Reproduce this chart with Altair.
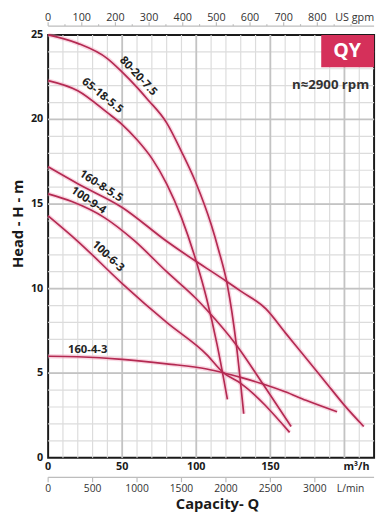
import altair as alt
import pandas as pd

# ---------------- data ----------------
curve_names = ["80-20-7.5", "65-18-5.5", "160-8-5.5", "100-9-4", "100-6-3", "160-4-3"]

q_80_20_7_5 = [0, 20, 40, 50, 60, 67, 80, 90, 100, 110, 115, 121, 127, 132]
h_80_20_7_5 = [25.0, 24.5, 23.6, 22.8, 21.9, 21.2, 19.8, 18.1, 16.2, 13.8, 12.3, 10.2, 6.7, 2.6]

q_65_18_5_5 = [0, 20, 40, 50, 60, 70, 80, 90, 100, 107, 114, 121]
h_65_18_5_5 = [22.3, 21.7, 20.4, 19.7, 18.8, 17.7, 16.2, 14.2, 11.6, 9.4, 6.7, 3.45]

q_160_8_5_5 = [0, 20, 50, 80, 100, 107, 120, 130, 147, 160, 174, 187, 200, 213]
h_160_8_5_5 = [17.2, 16.2, 14.8, 12.8, 11.6, 11.2, 10.45, 9.85, 8.8, 7.4, 5.9, 4.5, 3.1, 1.85]

q_100_9_4 = [0, 16, 38, 58, 80, 100, 107, 127, 145, 164]
h_100_9_4 = [15.6, 15.15, 14.2, 12.85, 11.0, 9.4, 8.75, 6.67, 4.36, 1.85]

q_100_6_3 = [0, 20, 50, 80, 107, 118, 130, 163]
h_100_6_3 = [14.3, 12.8, 10.3, 8.0, 6.1, 5.05, 4.4, 1.5]

q_160_4_3 = [0, 20, 50, 80, 107, 118, 130, 145, 160, 174, 195]
h_160_4_3 = [6.0, 5.97, 5.82, 5.55, 5.25, 5.03, 4.75, 4.36, 3.9, 3.4, 2.72]

label_q = [60.7, 36.5, 35.6, 27.1, 40.3, 26.7]
label_h = [22.55, 21.4, 16.05, 15.2, 11.9, 6.38]
label_angle = [47, 39, 33, 34, 43, 0]

x_ticks_m3h = [0, 50, 100, 150]
y_ticks = [0, 5, 10, 15, 20, 25]
grid_q_minor = list(range(10, 220, 10))
grid_q_major = [50, 100, 150, 200]
grid_h_minor = list(range(1, 25))
grid_h_major = [5, 10, 15, 20]
gpm_ticks = [0, 100, 200, 300, 400, 500, 600, 700, 800]
gpm_minor = [50, 150, 250, 350, 450, 550, 650, 750, 850, 900]
lmin_ticks = [0, 500, 1000, 1500, 2000, 2500, 3000]

GPM_TO_M3H = 0.2271247
LMIN_TO_M3H = 0.06

# ---------------- frames ----------------
all_q = [q_80_20_7_5, q_65_18_5_5, q_160_8_5_5, q_100_9_4, q_100_6_3, q_160_4_3]
all_h = [h_80_20_7_5, h_65_18_5_5, h_160_8_5_5, h_100_9_4, h_100_6_3, h_160_4_3]
rows = []
for name, qs, hs in zip(curve_names, all_q, all_h):
    for i, (q, h) in enumerate(zip(qs, hs)):
        rows.append({"series": name, "Q": q, "H": h, "i": i})
curves = pd.DataFrame(rows)
labels = pd.DataFrame({"series": curve_names, "Q": label_q, "H": label_h, "angle": label_angle})

W, H = 333, 432
FONT = "Open Sans"
xs = alt.Scale(domain=[0, 220], nice=False, zero=False)
ys = alt.Scale(domain=[0, 25], nice=False, zero=False)
XQ = alt.X("Q:Q", scale=xs, axis=None)
YH = alt.Y("H:Q", scale=ys, axis=None)

one = pd.DataFrame({"a": [0]})

def vrules(vals, color, width):
    return alt.Chart(pd.DataFrame({"Q": vals})).mark_rule(color=color, strokeWidth=width).encode(x=XQ)

def hrules(vals, color, width):
    return alt.Chart(pd.DataFrame({"H": vals})).mark_rule(color=color, strokeWidth=width).encode(y=YH)

grid = (vrules(grid_q_minor, "#dcdcdc", 1.2) + hrules(grid_h_minor, "#dcdcdc", 1.2)
        + vrules(grid_q_major, "#c3c3c3", 1.8) + hrules(grid_h_major, "#c3c3c3", 1.8))

# main axes labels (drawn through the scales)
x_labels = alt.Chart(pd.DataFrame({"Q": x_ticks_m3h})).mark_text(
    font=FONT, fontWeight="bold", fontSize=11, color="#1a1a1a", align="center", baseline="middle").encode(
    x=XQ, y=alt.value(H + 10), text="Q:Q")
y_labels = alt.Chart(pd.DataFrame({"H": y_ticks})).mark_text(
    font=FONT, fontWeight="bold", fontSize=11, color="#1a1a1a", align="right", baseline="middle").encode(
    y=YH, x=alt.value(-5), text="H:Q")

halo = alt.Chart(curves).mark_line(color="#f3a9c0", strokeWidth=4.5, opacity=0.45,
                                   interpolate="monotone").encode(
    x=XQ, y=YH, detail="series:N", order="i:Q")

lines = alt.Chart(curves).mark_line(color="#b42a52", strokeWidth=1.7, interpolate="monotone").encode(
    x=XQ, y=YH, detail="series:N", order="i:Q")

curve_text = alt.Chart(labels).mark_text(font=FONT, fontWeight="bold", fontSize=11.5,
                                         color="#222222", baseline="middle", align="center").encode(
    x=XQ, y=YH, text="series:N", angle=alt.Angle("angle:Q", scale=None))

# badge
badge = alt.Chart(one).mark_rect(color="#d5305a").encode(
    x=alt.value(279), x2=alt.value(W), y=alt.value(0), y2=alt.value(33))
badge_text = alt.Chart(one).mark_text(text="QY", font=FONT, fontWeight="bold", fontSize=20,
                                      color="white", align="center", baseline="middle").encode(
    x=alt.value(305.5), y=alt.value(17))
rpm_text = alt.Chart(one).mark_text(text="n≈2900 rpm", font=FONT, fontWeight="bold", fontSize=13.5,
                                    color="#333333", align="right", baseline="middle").encode(
    x=alt.value(328), y=alt.value(51))

# top US gpm axis
gpm_df = pd.DataFrame({"gpm": gpm_ticks})
gpm_minor_df = pd.DataFrame({"gpm": gpm_minor})
gpm_line = alt.Chart(one).mark_rule(color="#bdbdbd", strokeWidth=1.2).encode(
    x=alt.value(0), x2=alt.value(W), y=alt.value(-9))
gpm_tick = alt.Chart(gpm_df).transform_calculate(Q=f"datum.gpm*{GPM_TO_M3H}").mark_rule(
    color="#bdbdbd", strokeWidth=1.2).encode(x=XQ, y=alt.value(-13), y2=alt.value(-9))
gpm_mtick = alt.Chart(gpm_minor_df).transform_calculate(Q=f"datum.gpm*{GPM_TO_M3H}").mark_rule(
    color="#bdbdbd", strokeWidth=1.2).encode(x=XQ, y=alt.value(-11), y2=alt.value(-9))
gpm_lab = alt.Chart(gpm_df).transform_calculate(Q=f"datum.gpm*{GPM_TO_M3H}").mark_text(
    font=FONT, fontSize=11, color="#333333", baseline="alphabetic", align="center").encode(
    x=XQ, y=alt.value(-14.5), text="gpm:Q")
gpm_unit = alt.Chart(one).mark_text(text="US gpm", font=FONT, fontSize=11, color="#333333",
                                    align="right", baseline="alphabetic").encode(
    x=alt.value(W), y=alt.value(-14.5))

# bottom L/min axis
lmin_df = pd.DataFrame({"lmin": lmin_ticks})
lmin_line = alt.Chart(one).mark_rule(color="#bdbdbd", strokeWidth=1.2).encode(
    x=alt.value(0), x2=alt.value(W), y=alt.value(H + 20))
lmin_tick = alt.Chart(lmin_df).transform_calculate(Q=f"datum.lmin*{LMIN_TO_M3H}").mark_rule(
    color="#bdbdbd", strokeWidth=1.2).encode(x=XQ, y=alt.value(H + 20), y2=alt.value(H + 25))
lmin_lab = alt.Chart(lmin_df).transform_calculate(Q=f"datum.lmin*{LMIN_TO_M3H}").mark_text(
    font=FONT, fontSize=10.5, color="#333333", baseline="middle", align="center").encode(
    x=XQ, y=alt.value(H + 31.5), text="lmin:Q")
lmin_unit = alt.Chart(one).mark_text(text="L/min", font=FONT, fontSize=10.5, color="#333333",
                                     align="center", baseline="middle").encode(
    x=alt.value(309), y=alt.value(H + 31.5))
m3h_unit = alt.Chart(one).mark_text(text="m³/h", font=FONT, fontSize=11, fontWeight="bold",
                                    color="#1a1a1a", align="center", baseline="middle").encode(
    x=alt.value(315), y=alt.value(H + 10))

x_title = alt.Chart(one).mark_text(text="Capacity- Q", font=FONT, fontSize=15, fontWeight="bold",
                                   color="#1a1a1a", align="center", baseline="alphabetic").encode(
    x=alt.value(173), y=alt.value(H + 52.5))
y_title = alt.Chart(one).mark_text(text="Head - H - m", font=FONT, fontSize=15, fontWeight="bold",
                                   color="#1a1a1a", align="center", baseline="middle", angle=270).encode(
    x=alt.value(-31), y=alt.value(193))
left_line = alt.Chart(one).mark_rule(color="#cccccc", strokeWidth=2).encode(
    x=alt.value(-46), y=alt.value(0), y2=alt.value(H - 2))

chart = alt.layer(
    grid, halo, lines, curve_text, x_labels, y_labels, badge, badge_text, rpm_text,
    gpm_line, gpm_tick, gpm_mtick, gpm_lab, gpm_unit,
    lmin_line, lmin_tick, lmin_lab, lmin_unit, m3h_unit,
    x_title, y_title, left_line,
).properties(
    width=W, height=H,
    padding={"left": 41, "top": 22, "right": 4, "bottom": 54},
    autosize=alt.AutoSizeParams(type="none"),
    background="white",
).configure_view(stroke="#1a1a1a", strokeWidth=2)

chart.save("out.html", embed_options={"renderer": "svg", "actions": False})
